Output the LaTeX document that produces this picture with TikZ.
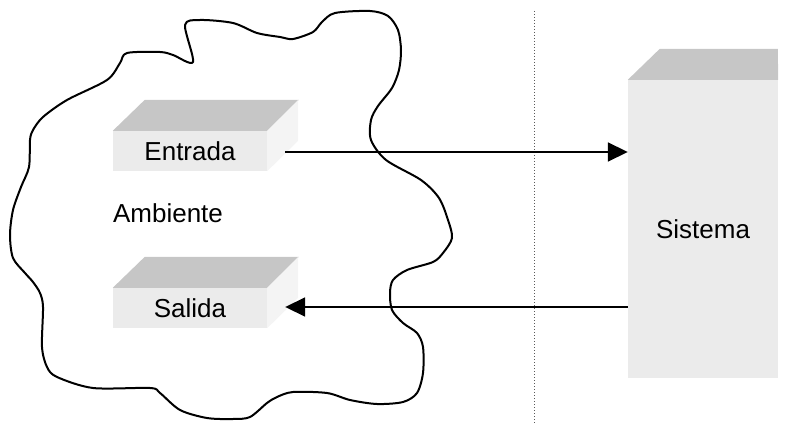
\documentclass[tikz,border=0pt]{standalone}
\usepackage{fontspec}
\setmainfont{Liberation Sans}
\usetikzlibrary{arrows.meta,calc,positioning}
\tikzset{>={Triangle[length=20pt,width=19pt]},
         texto/.style={font=\fontsize{26}{30}\selectfont},
         frente/.style={texto,rectangle,fill=gray!16,inner sep=0pt,
                        minimum width=154,minimum height=40},
         tapa/.style={fill=gray!45},
         lado/.style={fill=gray!9},
         nube/.style={line width=2pt,line join=round},
         flecha/.style={->,line width=1.8pt},
         limite/.style={dotted,line width=1pt,gray!70!black}}
\begin{document}
\begin{tikzpicture}[x=1pt,y=-1pt]
	  \useasboundingbox (0,0) rectangle (804,425);
	  % ambiente
	  \draw[nube] plot[smooth cycle,tension=0.5] coordinates {
	    (193,62) (185,25) (200,20) (233,23) (257,33) (280,37) (293,39)
	    (313,32) (322,22) (335,13) (370,11) (388,16) (398,30) (401,50)
	    (399,70) (392,88) (378,106) (371,120) (371,140) (386,160) (421,180)
	    (439,198) (448,220) (452,238) (443,253) (433,262) (407,270) (393,280)
	    (390,293) (392,310) (403,323) (417,333) (423,347) (423,373) (417,393)
	    (403,402) (377,404) (350,400) (327,393) (293,392) (277,397) (267,403)
	    (250,417) (233,419) (207,418) (180,410) (160,393)
	    (150,388) (93,388) (57,377) (47,367) (42,347) (43,307) (40,293)
	    (33,282) (25,273) (13,258) (10,235) (13,210) (21,187) (29,167)
	    (30,140) (33,130) (43,117) (67,100) (107,80) (120,63) (127,53)
	    (160,52) (173,55)};
	  \node[texto] (ambiente) at (168,213) {Ambiente};
	  % cajas
	  \node[frente] (entrada) at (190,151) {Entrada};
	  \node[frente] (salida) at (190,308) {Salida};
	  \foreach \c in {entrada,salida} {
	    \fill[tapa] (\c.north west) -- ++(32,-31) -- ++(154,0)
	      -- (\c.north east) -- cycle;
	    \fill[lado] (\c.north east) -- ++(31,-31) -- ++(0,41)
	      -- (\c.south east) -- cycle;
	  }
	  \node[frente,minimum width=150,minimum height=298] (sistema)
	    at (703,229) {Sistema};
	  \fill[tapa] (sistema.north west) -- ++(32,-31) -- ++(118,0)
	    -- (sistema.north east) -- cycle;
	  % limite
	  \coordinate (lim-a) at (534,11);
	  \coordinate (lim-b) at (534,425);
	  \draw[limite] (lim-a) -- (lim-b);
	  % flechas
	  \coordinate (e-sal) at ($(entrada.east)+(18,1)$);
	  \coordinate (s-lleg) at ($(salida.east)+(18,-1)$);
	  \draw[flecha] (e-sal) -- (e-sal -| sistema.west);
	  \draw[flecha] (s-lleg -| sistema.west) -- (s-lleg);
	\end{tikzpicture}
\end{document}
